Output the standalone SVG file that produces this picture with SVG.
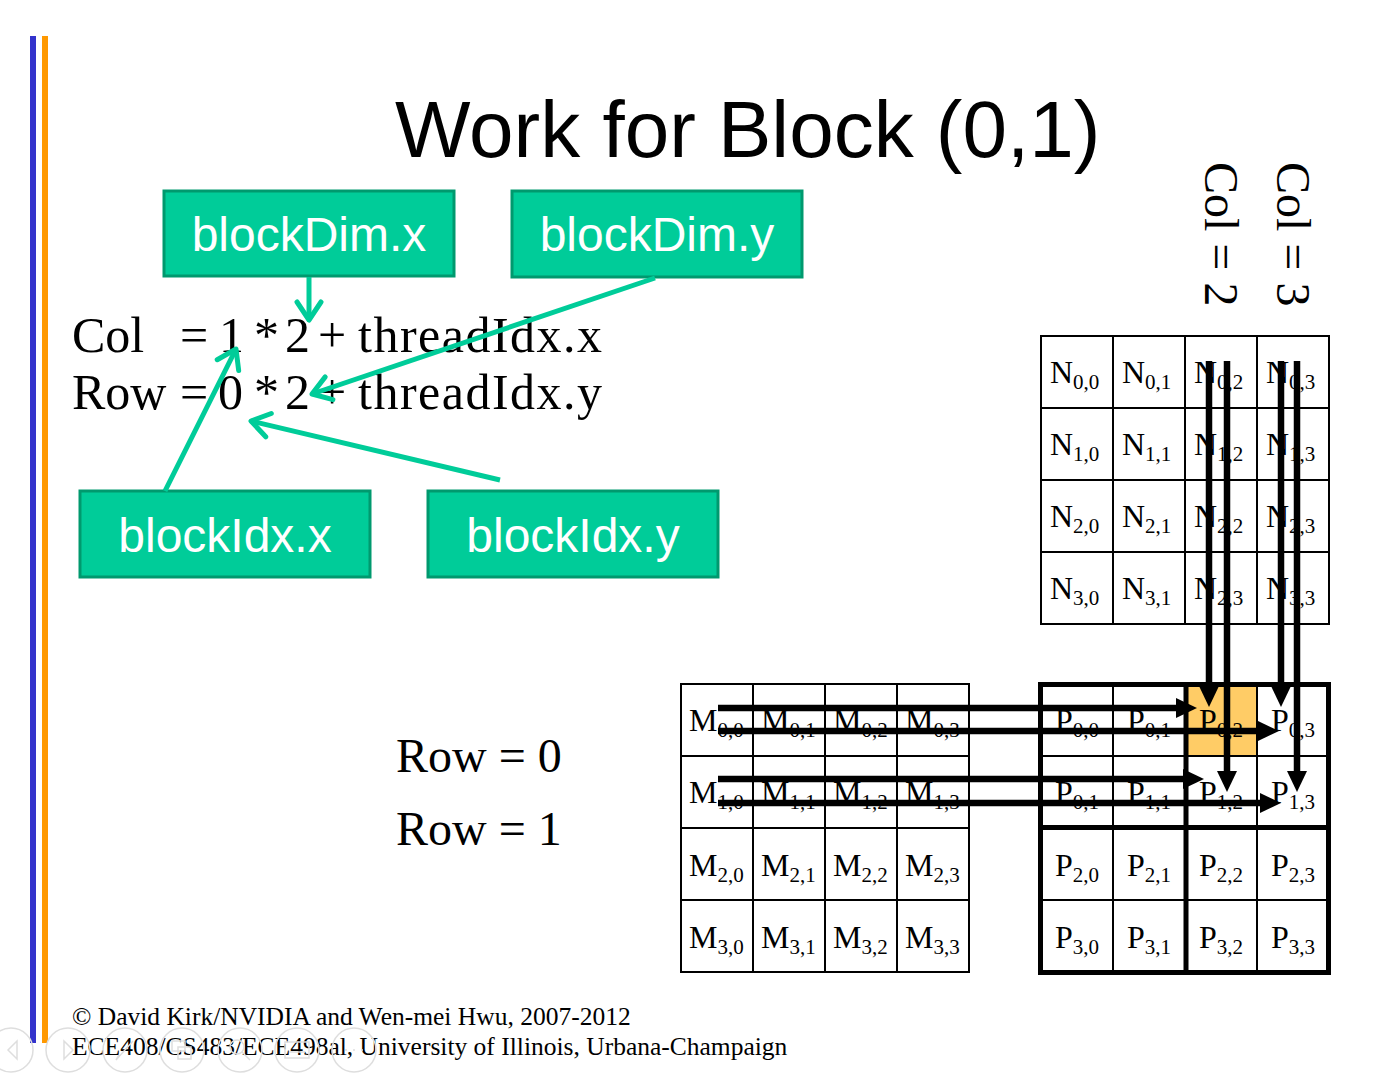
<svg xmlns="http://www.w3.org/2000/svg" width="1396" height="1075" viewBox="0 0 1396 1075">
<defs>
<style>
.serif{font-family:"Liberation Serif","Times New Roman",serif;fill:#000}
.eq{font-size:50px}
.cell{font-size:32px}
.sub{font-size:21px}
.box rect{fill:#00CC99;stroke:#00996E;stroke-width:3}
.box text{font-family:"Liberation Sans",Arial,sans-serif;font-size:48px;fill:#fff;text-anchor:middle}
.grid{fill:none;stroke:#000;stroke-width:2}
.thick{fill:none;stroke:#000;stroke-width:5}
.g-arrow{stroke:#00CC99;stroke-width:5;fill:none;marker-end:url(#open)}
.b-arrow{stroke:#000;stroke-width:6.5;fill:none;marker-end:url(#blk)}
.nav *{fill:none;stroke:#dedede;stroke-width:1.5}
</style>
<marker id="blk" markerUnits="userSpaceOnUse" markerWidth="22" markerHeight="20" refX="2" refY="10" orient="auto"><path d="M0,0 L21,10 L0,20 z" fill="#000"/></marker>
<marker id="open" markerUnits="userSpaceOnUse" markerWidth="26" markerHeight="30" refX="21" refY="15" orient="auto"><path d="M3,3 L21,15 L3,27" fill="none" stroke="#00CC99" stroke-width="5" stroke-linecap="round" stroke-linejoin="round"/></marker>
</defs>
<rect width="1396" height="1075" fill="#fff"/>
<g id="bars">
<rect x="30" y="36" width="6" height="1007" fill="#3333CC"/>
<rect x="42" y="36" width="6" height="1007" fill="#FF9900"/>
</g>
<text id="title" x="395" y="157" font-family="'Liberation Sans',Arial,sans-serif" font-size="80" fill="#000">Work for Block (0,1)</text>

<g id="equations" class="serif eq">
<text y="352"><tspan x="72">Col</tspan><tspan x="180">=</tspan><tspan x="219">1</tspan><tspan x="254">*</tspan><tspan x="285">2</tspan><tspan x="318">+</tspan><tspan x="358" textLength="244">threadIdx.x</tspan></text>
<text y="409"><tspan x="72">Row</tspan><tspan x="180">=</tspan><tspan x="218">0</tspan><tspan x="254">*</tspan><tspan x="285">2</tspan><tspan x="318">+</tspan><tspan x="358" textLength="244">threadIdx.y</tspan></text>
</g>

<g id="blockDim-x" class="box"><rect x="164" y="191" width="290" height="85"/><text x="309" y="251">blockDim.x</text></g>
<g id="blockDim-y" class="box"><rect x="512" y="191" width="290" height="86"/><text x="657" y="251">blockDim.y</text></g>
<g id="blockIdx-x" class="box"><rect x="80" y="491" width="290" height="86"/><text x="225" y="552">blockIdx.x</text></g>
<g id="blockIdx-y" class="box"><rect x="428" y="491" width="290" height="86"/><text x="573" y="552">blockIdx.y</text></g>

<g id="row-labels" class="serif" font-size="48">
<text x="396" y="772">Row = 0</text>
<text x="396" y="845">Row = 1</text>
</g>
<g id="col-labels" class="serif" font-size="48">
<text transform="translate(1205,162) rotate(90)">Col = 2</text>
<text transform="translate(1277,162) rotate(90)">Col = 3</text>
</g>

<g id="matrix-N">
<rect class="grid" x="1041" y="336" width="288" height="288"/>
<path class="grid" d="M1113,336V624M1185,336V624M1257,336V624M1041,408H1329M1041,480H1329M1041,552H1329"/>
<g class="serif cell">
<text x="1050" y="383">N<tspan class="sub" dy="6">0,0</tspan></text>
<text x="1122" y="383">N<tspan class="sub" dy="6">0,1</tspan></text>
<text x="1194" y="383">N<tspan class="sub" dy="6">0,2</tspan></text>
<text x="1266" y="383">N<tspan class="sub" dy="6">0,3</tspan></text>
<text x="1050" y="455">N<tspan class="sub" dy="6">1,0</tspan></text>
<text x="1122" y="455">N<tspan class="sub" dy="6">1,1</tspan></text>
<text x="1194" y="455">N<tspan class="sub" dy="6">1,2</tspan></text>
<text x="1266" y="455">N<tspan class="sub" dy="6">1,3</tspan></text>
<text x="1050" y="527">N<tspan class="sub" dy="6">2,0</tspan></text>
<text x="1122" y="527">N<tspan class="sub" dy="6">2,1</tspan></text>
<text x="1194" y="527">N<tspan class="sub" dy="6">2,2</tspan></text>
<text x="1266" y="527">N<tspan class="sub" dy="6">2,3</tspan></text>
<text x="1050" y="599">N<tspan class="sub" dy="6">3,0</tspan></text>
<text x="1122" y="599">N<tspan class="sub" dy="6">3,1</tspan></text>
<text x="1194" y="599">N<tspan class="sub" dy="6">2,3</tspan></text>
<text x="1266" y="599">N<tspan class="sub" dy="6">3,3</tspan></text>
</g>
</g>

<g id="matrix-M">
<rect class="grid" x="681" y="684" width="288" height="288"/>
<path class="grid" d="M753,684V972M825,684V972M897,684V972M681,756H969M681,828H969M681,900H969"/>
<g class="serif cell">
<text x="689" y="731">M<tspan class="sub" dy="6">0,0</tspan></text>
<text x="761" y="731">M<tspan class="sub" dy="6">0,1</tspan></text>
<text x="833" y="731">M<tspan class="sub" dy="6">0,2</tspan></text>
<text x="905" y="731">M<tspan class="sub" dy="6">0,3</tspan></text>
<text x="689" y="803">M<tspan class="sub" dy="6">1,0</tspan></text>
<text x="761" y="803">M<tspan class="sub" dy="6">1,1</tspan></text>
<text x="833" y="803">M<tspan class="sub" dy="6">1,2</tspan></text>
<text x="905" y="803">M<tspan class="sub" dy="6">1,3</tspan></text>
<text x="689" y="876">M<tspan class="sub" dy="6">2,0</tspan></text>
<text x="761" y="876">M<tspan class="sub" dy="6">2,1</tspan></text>
<text x="833" y="876">M<tspan class="sub" dy="6">2,2</tspan></text>
<text x="905" y="876">M<tspan class="sub" dy="6">2,3</tspan></text>
<text x="689" y="948">M<tspan class="sub" dy="6">3,0</tspan></text>
<text x="761" y="948">M<tspan class="sub" dy="6">3,1</tspan></text>
<text x="833" y="948">M<tspan class="sub" dy="6">3,2</tspan></text>
<text x="905" y="948">M<tspan class="sub" dy="6">3,3</tspan></text>
</g>
</g>

<g id="matrix-P">
<rect x="1186" y="685" width="71" height="71" fill="#FFCC66"/>
<path class="grid" d="M1113,684V972M1257,684V972M1041,756H1329M1041,900H1329"/>
<rect class="thick" x="1040.5" y="684.5" width="288" height="288"/>
<path class="thick" d="M1186,684V972M1040,827.5H1329"/>
<g class="serif cell">
<text x="1055" y="731">P<tspan class="sub" dy="6">0,0</tspan></text>
<text x="1127" y="731">P<tspan class="sub" dy="6">0,1</tspan></text>
<text x="1199" y="731">P<tspan class="sub" dy="6">0,2</tspan></text>
<text x="1271" y="731">P<tspan class="sub" dy="6">0,3</tspan></text>
<text x="1055" y="803">P<tspan class="sub" dy="6">0,1</tspan></text>
<text x="1127" y="803">P<tspan class="sub" dy="6">1,1</tspan></text>
<text x="1199" y="803">P<tspan class="sub" dy="6">1,2</tspan></text>
<text x="1271" y="803">P<tspan class="sub" dy="6">1,3</tspan></text>
<text x="1055" y="876">P<tspan class="sub" dy="6">2,0</tspan></text>
<text x="1127" y="876">P<tspan class="sub" dy="6">2,1</tspan></text>
<text x="1199" y="876">P<tspan class="sub" dy="6">2,2</tspan></text>
<text x="1271" y="876">P<tspan class="sub" dy="6">2,3</tspan></text>
<text x="1055" y="948">P<tspan class="sub" dy="6">3,0</tspan></text>
<text x="1127" y="948">P<tspan class="sub" dy="6">3,1</tspan></text>
<text x="1199" y="948">P<tspan class="sub" dy="6">3,2</tspan></text>
<text x="1271" y="948">P<tspan class="sub" dy="6">3,3</tspan></text>
</g>
</g>

<g id="connectors">
<path class="g-arrow" d="M309,277 L309,320"/>
<path class="g-arrow" d="M655,278 L312,394"/>
<path class="g-arrow" d="M165,491 L236,349"/>
<path class="g-arrow" d="M500,480 L251,421"/>
<path class="b-arrow" d="M1209,361 V688"/>
<path class="b-arrow" d="M1227,361 V773"/>
<path class="b-arrow" d="M1281,361 V688"/>
<path class="b-arrow" d="M1297,361 V773"/>
<path class="b-arrow" d="M718,708 H1178"/>
<path class="b-arrow" d="M718,731 H1260"/>
<path class="b-arrow" d="M718,779 H1185"/>
<path class="b-arrow" d="M718,803 H1262"/>
</g>

<g id="footer" class="serif" font-size="25.5">
<text x="72" y="1025">© David Kirk/NVIDIA and Wen-mei Hwu, 2007-2012</text>
<text x="72" y="1055">ECE408/CS483/ECE498al, University of Illinois, Urbana-Champaign</text>
</g>

<g id="nav" class="nav">
<circle cx="11" cy="1050" r="22"/><path d="M17,1041 L8,1050 L17,1059 Z"/>
<circle cx="68" cy="1050" r="22"/><path d="M64,1041 L73,1050 L64,1059 Z"/>
<circle cx="125" cy="1050" r="22"/><path d="M116,1060 L133,1041 M116,1060 L119,1055"/>
<circle cx="182" cy="1050" r="22"/><rect x="172" y="1041" width="13" height="10"/><rect x="178" y="1047" width="13" height="12"/>
<circle cx="240" cy="1050" r="22"/><circle cx="237" cy="1047" r="7"/><path d="M242,1052 L250,1060"/>
<circle cx="297" cy="1050" r="22"/><rect x="285" y="1042" width="24" height="16"/><path d="M289,1052 H305"/>
<circle cx="354" cy="1050" r="22"/><path d="M345,1050 h2 M353,1050 h2 M361,1050 h2"/>
</g>
</svg>
